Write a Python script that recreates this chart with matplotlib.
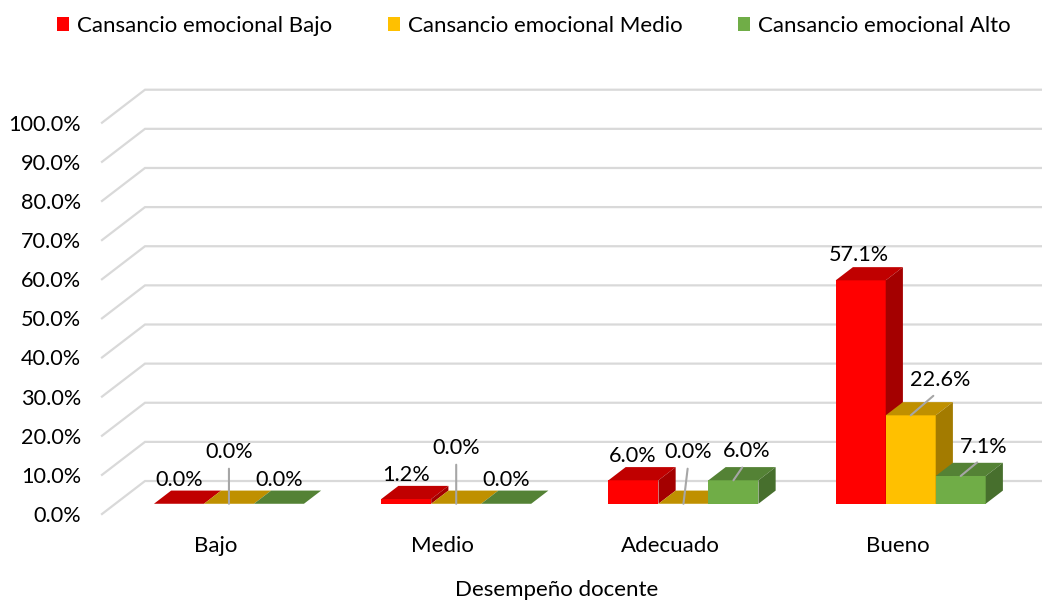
import matplotlib
matplotlib.use("Agg")
import matplotlib.pyplot as plt
from matplotlib.patches import Polygon, Patch
from matplotlib.lines import Line2D

plt.rcParams['font.family'] = ['Lato', 'DejaVu Sans']

# ---- data ----
categories = ["Bajo", "Medio", "Adecuado", "Bueno"]
series_names = ["Cansancio emocional Bajo", "Cansancio emocional Medio", "Cansancio emocional Alto"]
bajo_vals = [0.0, 1.2, 6.0, 57.1]
medio_vals = [0.0, 0.0, 0.0, 22.6]
alto_vals = [0.0, 0.0, 6.0, 7.1]
y_ticks = [0, 10, 20, 30, 40, 50, 60, 70, 80, 90, 100]
x_title = "Desempeño docente"

series_vals = [bajo_vals, medio_vals, alto_vals]

# face colours: front, top, side
front_cols = ["#FF0000", "#FFC000", "#70AD47"]
top_cols = ["#C00000", "#BF9000", "#548235"]
side_cols = ["#A40000", "#A37B00", "#476F2D"]

# label offsets (pixels) from the bar's front-top centre, and leader flags
label_offsets = [
    [(0, 24), (0, 24), (-1, 24), (-2, 25)],
    [(0, 52), (0, 56), (5, 52), (29, 35)],
    [(0, 24), (0, 24), (13, 29), (23, 29)],
]
label_leaders = [
    [False, False, False, False],
    [True, True, True, True],
    [False, False, True, True],
]

NUM_FS = 15.6
TXT_FS = 16

# ---- pseudo-3D geometry (data units) ----
DX, DY = 0.1892, 8.43      # full depth of the back wall
TF, TB = 0.31, 0.71        # front / back depth of the bars
BAR_W = 0.22
GRID_C = "#D9D9D9"


def P(x, y, t):
    return (x + t * DX, y + t * DY)


fig = plt.figure(figsize=(10.42, 6.01), dpi=100)
ax = fig.add_axes([102 / 1042, 87 / 601, 909 / 1042, 391.3 / 601])
ax.set_xlim(0, 4)
ax.set_ylim(0, 100)
for s in ax.spines.values():
    s.set_visible(False)

# gridlines: short diagonal on the side wall then along the back wall
for yv in y_ticks:
    x0, y0 = P(0, yv, 0)
    x1, y1 = P(0, yv, 1)
    ax.add_line(Line2D([x0, x1, 4.6], [y0, y1, y1], color=GRID_C, lw=1.6,
                       clip_on=False, zorder=1, solid_joinstyle='miter'))

# bars
for ci in range(len(categories)):
    for si, vals in enumerate(series_vals):
        v = vals[ci]
        a = ci + 0.5 - 1.5 * BAR_W + si * BAR_W
        b = a + BAR_W
        front = [P(a, 0, TF), P(b, 0, TF), P(b, v, TF), P(a, v, TF)]
        top = [P(a, v, TF), P(b, v, TF), P(b, v, TB), P(a, v, TB)]
        side = [P(b, 0, TF), P(b, 0, TB), P(b, v, TB), P(b, v, TF)]
        z = 3 + ci * 3 + si * 0.3
        ax.add_patch(Polygon(front, closed=True, fc=front_cols[si], ec='none', zorder=z, clip_on=False))
        ax.add_patch(Polygon(top, closed=True, fc=top_cols[si], ec='none', zorder=z, clip_on=False))
        ax.add_patch(Polygon(side, closed=True, fc=side_cols[si], ec='none', zorder=z, clip_on=False))

# value labels
for si, vals in enumerate(series_vals):
    for ci, v in enumerate(vals):
        a = ci + 0.5 - 1.5 * BAR_W + si * BAR_W
        xy = P(a + BAR_W / 2, v, TF)
        dx, dy = label_offsets[si][ci]
        kw = {}
        if label_leaders[si][ci]:
            kw['arrowprops'] = dict(arrowstyle='-', color='#A6A6A6', lw=1.5,
                                    shrinkA=3, shrinkB=0, relpos=(0.5, 0.0))
        ax.annotate(f"{v:.1f}%", xy=xy, xytext=(dx, dy), textcoords='offset pixels',
                    ha='center', va='center', fontsize=NUM_FS, color='#000000',
                    zorder=30, annotation_clip=False, **kw)

# axes ticks
ax.set_yticks(y_ticks)
ax.set_yticklabels([f"{v:.1f}%" for v in y_ticks], fontsize=NUM_FS)
ax.set_xticks([i + 0.5 for i in range(len(categories))])
ax.set_xticklabels(categories, fontsize=TXT_FS)
ax.tick_params(axis='y', length=0, pad=15)
ax.tick_params(axis='x', length=0, pad=16)
ax.set_xlabel(x_title, fontsize=TXT_FS, labelpad=17)

# legend
handles = [Patch(facecolor=c, edgecolor='none') for c in front_cols]
fig.legend(handles, series_names, loc='center', bbox_to_anchor=(534 / 1042, 1 - 26 / 601),
           ncol=3, frameon=False, fontsize=TXT_FS, handlelength=0.55, handleheight=0.55,
           handletextpad=0.35, columnspacing=2.5)

fig.savefig("out.png", dpi=100)
